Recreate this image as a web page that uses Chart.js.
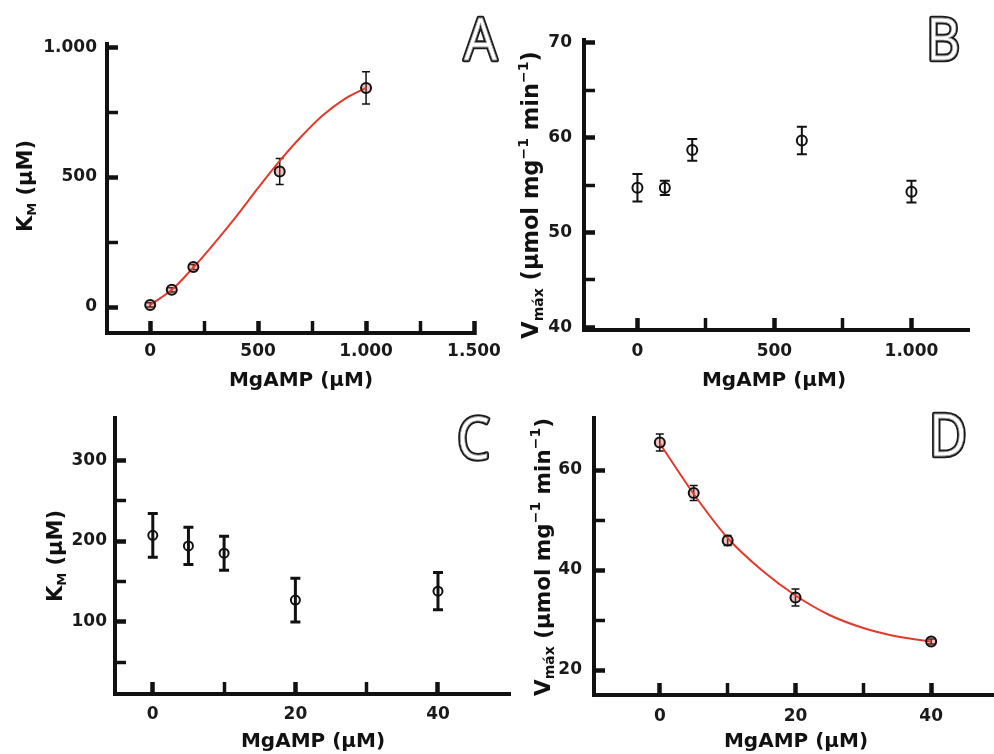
<!DOCTYPE html>
<html>
<head>
<meta charset="utf-8">
<script src="https://cdn.jsdelivr.net/npm/chart.js@4.4.1/dist/chart.umd.min.js"></script>
<style>
  html, body { margin: 0; padding: 0; background: #fff; overflow: hidden; }
  canvas { position: absolute; left: 0; top: 0; }
</style>
</head>
<body>
<canvas id="chartA" width="1010" height="754"></canvas>
<canvas id="chartB" width="1010" height="754"></canvas>
<canvas id="chartC" width="1010" height="754"></canvas>
<canvas id="chartD" width="1010" height="754"></canvas>
<script>
const W = 1010, H = 754;
const FONT = '"DejaVu Sans", Verdana, sans-serif';

// Panel A: K_M vs MgAMP (0-1000 µM), with fitted curve
const mgA = [0, 100, 200, 600, 1000];
const kmA = [8, 66, 154, 521, 843];
const kmErrA = [8, 8, 10, 50, 62];
const fitXA = [0, 100, 200, 300, 400, 500, 600, 700, 800, 900, 1000];
const fitYA = [8, 66, 152, 248, 350, 458, 562, 656, 738, 800, 843];
const xTicksA = [0, 250, 500, 750, 1000, 1250, 1500];
const xLabelsA = ['0', '', '500', '', '1.000', '', '1.500'];
const yTicksA = [0, 250, 500, 750, 1000];
const yLabelsA = ['0', '', '500', '', '1.000'];

// Panel B: Vmax vs MgAMP (0-1000 µM)
const mgB = [0, 100, 200, 600, 1000];
const vmaxB = [54.7, 54.7, 58.7, 59.7, 54.3];
const vmaxErrB = [1.45, 0.75, 1.15, 1.45, 1.15];
const xTicksB = [0, 250, 500, 750, 1000];
const xLabelsB = ['0', '', '500', '', '1.000'];
const yTicksB = [40, 45, 50, 55, 60, 65, 70];
const yLabelsB = ['40', '', '50', '', '60', '', '70'];

// Panel C: K_M vs MgAMP (0-40 µM)
const mgC = [0, 5, 10, 20, 40];
const kmC = [207, 194, 185, 127, 138];
const kmErrC = [27, 23, 21, 27, 23];
const xTicksC = [0, 10, 20, 30, 40];
const xLabelsC = ['0', '', '20', '', '40'];
const yTicksC = [50, 100, 150, 200, 250, 300];
const yLabelsC = ['', '100', '', '200', '', '300'];

// Panel D: Vmax vs MgAMP (0-40 µM), with fitted curve
const mgD = [0, 5, 10, 20, 40];
const vmaxD = [65.5, 55.4, 45.9, 34.5, 25.7];
const vmaxErrD = [1.7, 1.5, 1.0, 1.7, 0.5];
const fitXD = [0, 5, 10, 15, 20, 25, 30, 35, 40];
const fitYD = [65.3, 55.2, 46.4, 40.0, 34.9, 31.0, 28.4, 26.7, 25.7];
const xTicksD = [0, 10, 20, 30, 40];
const xLabelsD = ['0', '', '20', '', '40'];
const yTicksD = [20, 30, 40, 50, 60];
const yLabelsD = ['20', '', '40', '', '60'];

const xTitle = 'MgAMP (µM)';
const kmTitle = [['K', 'n'], ['M', 'sub'], [' (µM)', 'n']];
const vmaxTitle = [['V', 'n'], ['máx', 'sub'], [' (µmol mg', 'n'], ['−1', 'sup'], [' min', 'n'], ['−1', 'sup'], [')', 'n']];

const pts = (xs, ys) => xs.map((x, i) => ({ x, y: ys[i] }));

// error bars drawn under the markers, from each dataset's errors array
const errorBars = {
  id: 'errorBars',
  beforeDatasetsDraw(chart) {
    const { ctx, scales: { x, y } } = chart;
    chart.data.datasets.forEach(ds => {
      if (!ds.errors) return;
      ctx.save();
      ctx.strokeStyle = '#111';
      ctx.lineWidth = ds.errorWidth;
      ds.data.forEach((p, i) => {
        const px = x.getPixelForValue(p.x);
        const top = y.getPixelForValue(p.y + ds.errors[i]);
        const bot = y.getPixelForValue(p.y - ds.errors[i]);
        const c = ds.capHalf;
        ctx.beginPath();
        ctx.moveTo(px, top); ctx.lineTo(px, bot);
        ctx.moveTo(px - c, top); ctx.lineTo(px + c, top);
        ctx.moveTo(px - c, bot); ctx.lineTo(px + c, bot);
        ctx.stroke();
      });
      ctx.restore();
    });
  }
};

// axis titles with sub/superscripts + outlined panel letter
const decor = {
  id: 'decor',
  afterDraw(chart, args, o) {
    const ctx = chart.ctx;
    ctx.save();
    ctx.fillStyle = '#111';
    ctx.font = `bold ${o.xSize}px ${FONT}`;
    ctx.textAlign = 'center';
    ctx.textBaseline = 'alphabetic';
    ctx.fillText(xTitle, o.xTitleX, o.xTitleY);

    // rotated y title
    ctx.translate(o.yTitleX, o.yTitleY);
    ctx.rotate(-Math.PI / 2);
    ctx.textAlign = 'left';
    const small = Math.round(o.ySize * o.smallRatio);
    const fonts = o.yTitle.map(p => `bold ${p[1] === 'n' ? o.ySize : small}px ${FONT}`);
    const widths = o.yTitle.map((p, i) => { ctx.font = fonts[i]; return ctx.measureText(p[0]).width; });
    let cx = -widths.reduce((a, b) => a + b, 0) / 2;
    o.yTitle.forEach((p, i) => {
      ctx.font = fonts[i];
      const dy = p[1] === 'sub' ? o.ySize * 0.2 : p[1] === 'sup' ? -o.ySize * 0.45 : 0;
      ctx.fillText(p[0], cx, dy);
      cx += widths[i];
    });
    ctx.restore();

    ctx.save();
    ctx.translate(o.letterX, o.letterY);
    ctx.scale(0.9, 1);
    ctx.font = `400 58px "Open Sans", ${FONT}`;
    ctx.textAlign = 'right';
    ctx.lineJoin = 'round';
    ctx.lineWidth = 4.6;
    ctx.strokeStyle = '#1a1a1a';
    ctx.strokeText(o.letter, 0, 0);
    ctx.fillStyle = '#fff';
    ctx.fillText(o.letter, 0, 0);
    ctx.lineWidth = 0.8;
    ctx.strokeStyle = '#999';
    ctx.strokeText(o.letter, 0, 0);
    ctx.restore();
  }
};

function axis(ticks, labels, min, max, pos, fitSize, pad) {
  return {
    type: 'linear',
    position: pos,
    min, max,
    afterBuildTicks: s => { s.ticks = ticks.map(v => ({ value: v })); },
    afterFit: s => { if (pos === 'left') s.width = fitSize; else s.height = fitSize; },
    grid: {
      display: true,
      drawOnChartArea: false,
      drawTicks: true,
      tickLength: pos === 'left' ? -11 : -12,
      tickColor: '#111',
      tickWidth: c => (labels[c.index] ? 4.5 : 3.5)
    },
    border: { display: true, color: '#111', width: 4 },
    ticks: {
      autoSkip: false,
      maxRotation: 0,
      padding: pad,
      color: '#1a1a1a',
      font: { family: FONT, size: 17, weight: 'bold' },
      callback: (v, i) => labels[i]
    }
  };
}

function makePanel(id, p) {
  const datasets = [{
    data: pts(p.xs, p.ys),
    errors: p.errs,
    errorWidth: p.errorWidth,
    capHalf: p.capHalf,
    pointRadius: p.radius,
    pointBorderWidth: 2,
    pointBorderColor: '#111',
    pointBackgroundColor: p.fill,
    showLine: false
  }];
  if (p.fitX) {
    datasets.push({
      data: pts(p.fitX, p.fitY),
      showLine: true,
      borderColor: '#e23a2c',
      borderWidth: 2,
      pointRadius: 0,
      cubicInterpolationMode: 'monotone'
    });
  }
  return new Chart(document.getElementById(id), {
    type: 'scatter',
    data: { datasets },
    options: {
      responsive: false,
      animation: false,
      devicePixelRatio: 1,
      events: [],
      layout: { padding: { left: 0, top: p.area.t, right: W - p.area.r, bottom: 0 } },
      scales: {
        x: axis(p.xTicks, p.xLabels, p.xMin, p.xMax, 'bottom', H - p.area.b, p.xPad),
        y: axis(p.yTicks, p.yLabels, p.yMin, p.yMax, 'left', p.area.l, p.yPad)
      },
      plugins: {
        legend: { display: false },
        tooltip: { enabled: false },
        decor: p.decor
      }
    },
    plugins: [errorBars, decor]
  });
}

makePanel('chartA', {
  xs: mgA, ys: kmA, errs: kmErrA, fitX: fitXA, fitY: fitYA,
  errorWidth: 1.5, capHalf: 4, radius: 5, fill: 'rgba(210,80,80,0.35)',
  area: { l: 107, t: 44, r: 474, b: 333 },
  xMin: -200, xMax: 1500, yMin: -100, yMax: 1012,
  xTicks: xTicksA, xLabels: xLabelsA, yTicks: yTicksA, yLabels: yLabelsA,
  xPad: 20, yPad: 21,
  decor: { xSize: 20, xTitleX: 301, xTitleY: 386, yTitle: kmTitle, ySize: 21, smallRatio: 0.6,
           yTitleX: 32, yTitleY: 186, letter: 'A', letterX: 497, letterY: 60 }
});

makePanel('chartB', {
  xs: mgB, ys: vmaxB, errs: vmaxErrB,
  errorWidth: 2, capHalf: 5, radius: 5, fill: 'rgba(0,0,0,0)',
  area: { l: 584, t: 40, r: 969, b: 330 },
  xMin: -195, xMax: 1210, yMin: 39.7, yMax: 70.3,
  xTicks: xTicksB, xLabels: xLabelsB, yTicks: yTicksB, yLabels: yLabelsB,
  xPad: 23, yPad: 23,
  decor: { xSize: 20, xTitleX: 774, xTitleY: 386, yTitle: vmaxTitle, ySize: 22.5, smallRatio: 0.64,
           yTitleX: 538, yTitleY: 195, letter: 'B', letterX: 960, letterY: 60 }
});

makePanel('chartC', {
  xs: mgC, ys: kmC, errs: kmErrC,
  errorWidth: 3, capHalf: 5, radius: 4.5, fill: 'rgba(0,0,0,0)',
  area: { l: 115, t: 418, r: 510, b: 694 },
  xMin: -5.3, xMax: 50.1, yMin: 11, yMax: 352,
  xTicks: xTicksC, xLabels: xLabelsC, yTicks: yTicksC, yLabels: yLabelsC,
  xPad: 22, yPad: 19,
  decor: { xSize: 20, xTitleX: 313, xTitleY: 747, yTitle: kmTitle, ySize: 21, smallRatio: 0.6,
           yTitleX: 62, yTitleY: 556, letter: 'C', letterX: 490, letterY: 459 }
});

makePanel('chartD', {
  xs: mgD, ys: vmaxD, errs: vmaxErrD, fitX: fitXD, fitY: fitYD,
  errorWidth: 1.5, capHalf: 4, radius: 5, fill: 'rgba(210,80,80,0.35)',
  area: { l: 594, t: 418, r: 999, b: 695 },
  xMin: -9.7, xMax: 50, yMin: 15, yMax: 70.4,
  xTicks: xTicksD, xLabels: xLabelsD, yTicks: yTicksD, yLabels: yLabelsD,
  xPad: 23, yPad: 23,
  decor: { xSize: 20, xTitleX: 796, xTitleY: 747, yTitle: vmaxTitle, ySize: 21.5, smallRatio: 0.64,
           yTitleX: 550, yTitleY: 557, letter: 'D', letterX: 967, letterY: 456 }
});
</script>
</body>
</html>
